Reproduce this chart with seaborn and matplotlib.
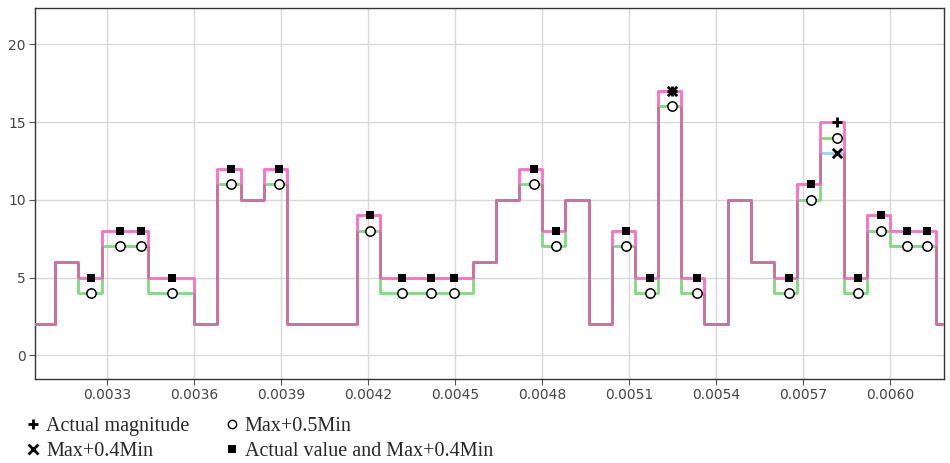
import numpy as np
import pandas as pd
import matplotlib
matplotlib.use("Agg")
import matplotlib.pyplot as plt
import seaborn as sns

# Sampling interval of the stepped signals (s) and index of the first sample
dt = 0.00008
k_start = 38

# Level held over each sampling interval
actual_value = [2, 6, 5, 8, 8, 5, 5, 2, 12, 10, 12, 2, 2, 2, 9, 5, 5, 5, 5, 6,
                10, 12, 8, 10, 2, 8, 5, 17, 5, 2, 10, 6, 5, 11, 15, 5, 9, 8, 8, 2]
max_04_min = [2, 6, 5, 8, 8, 5, 5, 2, 12, 10, 12, 2, 2, 2, 9, 5, 5, 5, 5, 6,
              10, 12, 8, 10, 2, 8, 5, 17, 5, 2, 10, 6, 5, 11, 13, 5, 9, 8, 8, 2]
max_05_min = [2, 6, 4, 7, 7, 4, 4, 2, 11, 10, 11, 2, 2, 2, 8, 4, 4, 4, 4, 6,
              10, 11, 7, 10, 2, 7, 4, 16, 4, 2, 10, 6, 4, 10, 14, 4, 8, 7, 7, 2]

# Event times and the levels marked at them
event_t = [0.003244, 0.003343, 0.003415, 0.003524, 0.003726, 0.003893, 0.004207,
           0.004316, 0.004416, 0.004497, 0.004773, 0.004849, 0.005089, 0.005172,
           0.005249, 0.005333, 0.005653, 0.005726, 0.005816, 0.005891, 0.005969,
           0.006058, 0.006129]
event_actual = [5, 8, 8, 5, 12, 12, 9, 5, 5, 5, 12, 8, 8, 5, 17, 5, 5, 11, 15, 5, 9, 8, 8]
event_04 = [5, 8, 8, 5, 12, 12, 9, 5, 5, 5, 12, 8, 8, 5, 17, 5, 5, 11, 13, 5, 9, 8, 8]
event_05 = [4, 7, 7, 4, 11, 11, 8, 4, 4, 4, 11, 7, 7, 4, 16, 4, 4, 10, 14, 4, 8, 7, 7]

x_ticks = [0.0033, 0.0036, 0.0039, 0.0042, 0.0045, 0.0048, 0.0051, 0.0054, 0.0057, 0.0060]
y_ticks = [0, 5, 10, 15, 20]

sns.set_theme(style="white")
plt.rcParams["font.family"] = ["DejaVu Sans"]

fig = plt.figure(figsize=(9.5, 4.63), dpi=100)
ax = fig.add_axes([35 / 950, 1 - 379 / 463, 909 / 950, 371 / 463])

# Step edges: one extra edge so the last level is held to its end
n = len(actual_value)
edges = (k_start + np.arange(n + 1)) * dt
steps = pd.DataFrame({
    "t": edges,
    "actual": actual_value + [actual_value[-1]],
    "m04": max_04_min + [max_04_min[-1]],
    "m05": max_05_min + [max_05_min[-1]],
})
a = steps["actual"].to_numpy(dtype=float)
b = steps["m04"].to_numpy(dtype=float)
c = steps["m05"].to_numpy(dtype=float)
common = np.where((a == b) & (a == c), a, np.nan)

shared_color = "#c8739b"
lw = 2.0
line_kw = dict(drawstyle="steps-post", linewidth=lw, estimator=None, sort=False, legend=False)
sns.lineplot(data=steps, x="t", y="m05", color="#7ddc7d", ax=ax, zorder=2, **line_kw)
sns.lineplot(data=steps, x="t", y="m04", color="#9ad4ee", ax=ax, zorder=3, **line_kw)
sns.lineplot(data=steps, x="t", y="actual", color="#ff70c8", ax=ax, zorder=4, **line_kw)

# Stretches where all three levels coincide (gaps kept where they differ)
ax.plot(steps["t"], common, drawstyle="steps-post", color=shared_color, linewidth=lw,
        zorder=5, solid_capstyle="butt")
# Shared part of the vertical jumps at each step edge
lo = np.maximum.reduce([np.minimum(s[:-1], s[1:]) for s in (a, b, c)])
hi = np.minimum.reduce([np.maximum(s[:-1], s[1:]) for s in (a, b, c)])
jump = hi > lo
ax.vlines(edges[1:][jump], lo[jump], hi[jump], color=shared_color, linewidth=lw, zorder=5)

ev = pd.DataFrame({"t": event_t, "actual": event_actual, "m04": event_04, "m05": event_05})
top = ev["actual"].max()
ev_peak = ev[(ev["actual"] == top) | (ev["actual"] != ev["m04"])]
ev_same = ev[(ev["actual"] == ev["m04"]) & (ev["actual"] != top)]

mk = dict(ax=ax, legend=False, zorder=6)
sns.scatterplot(data=ev_peak, x="t", y="actual", marker="+", s=50, color="black",
                linewidth=2.0, **mk)
sns.scatterplot(data=ev_peak, x="t", y="m04", marker="x", s=45, color="black",
                linewidth=2.0, **mk)
sns.scatterplot(data=ev, x="t", y="m05", marker="o", s=45, facecolor="white",
                edgecolor="black", linewidth=1.1, **mk)
sns.scatterplot(data=ev_same, x="t", y="actual", marker="s", s=40, color="black",
                linewidth=0, **mk)

ax.set_xlim(0.0030506, 0.0061863)
ax.set_ylim(-1.52, 22.33)
ax.set_xticks(x_ticks)
ax.set_xticklabels([f"{v:.4f}" for v in x_ticks])
ax.set_yticks(y_ticks)
ax.set_xlabel("")
ax.set_ylabel("")
ax.grid(True, color="#d8d8d8", linewidth=1.0)
ax.set_axisbelow(True)
for s in ax.spines.values():
    s.set_color("#333333")
    s.set_linewidth(1.0)
ax.tick_params(axis="both", which="major", direction="out", length=4, width=0.8,
               color="#555555", labelcolor="#444444", labelsize=10, pad=2.5,
               bottom=True, left=True)

# Marker legend beneath the axes
handles = [
    plt.Line2D([], [], marker="+", markersize=7, color="black", linestyle="none", markeredgewidth=2),
    plt.Line2D([], [], marker="x", markersize=6.5, color="black", linestyle="none", markeredgewidth=2),
    plt.Line2D([], [], marker="o", markersize=6, markerfacecolor="white", markeredgecolor="black",
               linestyle="none", markeredgewidth=1),
    plt.Line2D([], [], marker="s", markersize=5.5, color="black", linestyle="none", markeredgewidth=0),
]
labels = ["Actual magnitude", "Max+0.4Min", "Max+0.5Min", "Actual value and Max+0.4Min"]
fig.legend(handles, labels, ncol=2, loc="upper left", bbox_to_anchor=(27 / 950, 1 - 417 / 463),
           frameon=False, prop={"family": "Liberation Serif", "size": 14.5},
           handlelength=0.6, handletextpad=0.35, columnspacing=1.8, labelspacing=0.3,
           borderpad=0, borderaxespad=0)

fig.savefig("out.png", dpi=100, facecolor="white")
